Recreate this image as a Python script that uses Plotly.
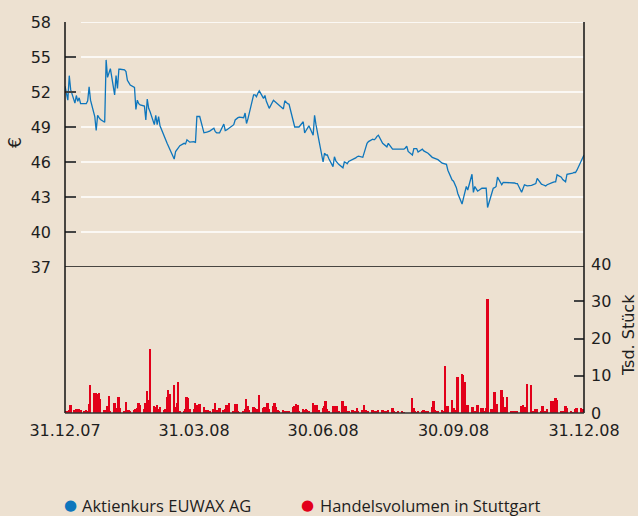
import pandas as pd
import plotly.graph_objects as go

# ---------------- data ----------------
# trading days: 31.12.2007 .. 31.12.2008 (weekdays, without 01.01.2008)
start_date = "2007-12-31"
end_date = "2008-12-31"
excluded_days = ["2008-01-01"]

# share price EUWAX AG (EUR), one value per trading day
price = [
    52.5,                                                                       # Dec 07
    51.3, 53.4, 52.2, 51.05, 51.7, 51.2, 51.5, 51.0, 51.0, 51.0, 51.25, 52.45,
    51.3, 49.9, 48.7, 50.0, 49.8, 49.65, 49.4, 54.75, 53.25, 53.6,              # Jan
    54.0, 51.75, 53.4, 52.3, 53.95, 53.95, 53.9, 53.75, 53.0, 52.8, 52.6,
    52.4, 50.5, 51.3, 51.0, 50.9, 50.8, 49.6, 51.4, 50.6, 50.3,                 # Feb
    49.2, 50.0, 49.2, 49.9, 49.1, 48.3, 47.9, 47.6, 47.3, 47.0, 46.25,
    46.9, 47.1, 47.3, 47.4, 47.6, 47.55, 47.9, 47.8, 47.7, 47.75,               # Mar
    47.65, 49.9, 49.9, 49.9, 48.5, 48.5, 48.55, 48.6, 48.65, 48.9, 48.6,
    48.5, 48.5, 48.5, 49.25, 48.7, 48.75, 48.85, 48.95, 49.2, 49.6, 49.75,      # Apr
    49.8, 49.85, 49.8, 50.2, 49.3, 49.7, 50.25, 51.75, 51.75, 51.6, 51.9,
    52.1, 51.45, 51.7, 51.2, 50.9, 50.6, 51.3, 51.2, 51.1, 51.0, 50.85,         # May
    50.55, 51.25, 51.1, 51.0, 50.95, 49.6, 49.0, 49.0, 49.0, 49.0, 49.45,
    48.5, 48.7, 48.9, 49.1, 48.3, 50.0, 49.2, 48.4, 47.9, 46.0,                 # Jun
    46.75, 46.6, 46.6, 46.3, 45.6, 46.45, 46.1, 45.95, 45.8, 45.5, 46.0, 45.95,
    45.85, 46.05, 46.2, 46.3, 46.35, 46.45, 46.5, 46.4, 46.75, 47.2, 47.6,      # Jul
    47.75, 47.95, 47.9, 48.0, 48.2, 48.3, 47.6, 47.5, 47.35, 47.3, 47.6,
    47.1, 47.1, 47.1, 47.1, 47.1, 47.1, 47.1, 47.2, 47.35, 46.9,                # Aug
    46.6, 47.15, 47.15, 47.15, 46.85, 47.1, 46.95, 46.9, 46.8, 46.75, 46.4,
    46.35, 46.3, 46.25, 46.2, 45.9, 45.85, 45.85, 45.8, 45.3, 44.45, 44.35,     # Sep
    44.1, 43.8, 43.3, 42.4, 42.9, 43.4, 43.9, 43.6, 44.95, 43.4, 43.9, 43.7,
    43.5, 43.75, 43.75, 43.75, 43.75, 42.1, 43.5, 43.75, 43.8, 43.9, 44.7,      # Oct
    44.05, 44.25, 44.25, 44.2, 44.25, 44.25, 44.2, 44.2, 44.15, 44.15,
    43.4, 43.8, 44.05, 44.0, 43.95, 44.0, 44.05, 44.1, 44.15, 44.6,             # Nov
    44.1, 44.05, 44.0, 43.95, 44.05, 44.25, 44.25, 44.3, 44.3, 44.9, 44.7, 44.5,
    44.35, 44.3, 44.95, 45.0, 45.05, 45.1, 45.1, 45.3, 46.0, 46.3, 46.6,        # Dec
]

# trading volume Stuttgart (thousand shares), one value per trading day
volume = [
    0.3,                                                                        # Dec 07
    0.5, 0.7, 2.1, 0.9, 1.1, 1.0, 1.1, 0.8, 0.3, 0.7, 0.6, 2.5,
    7.4, 5.4, 5.3, 5.0, 5.3, 3.7, 0.9, 0.3, 2.0, 4.6,                           # Jan
    0.4, 2.8, 0.8, 1.4, 4.4, 1.3, 0.5, 3.0, 0.8, 0.7, 0.6,
    0.8, 1.0, 1.4, 2.7, 2.2, 1.0, 2.8, 6.0, 3.6, 17.1,                          # Feb
    2.0, 1.5, 2.1, 1.2, 1.6, 0.9, 1.0, 4.4, 6.2, 5.2, 7.6,
    1.5, 2.7, 8.3, 0.5, 0.5, 1.2, 4.2, 4.0, 1.0, 1.0,                           # Mar
    2.7, 2.2, 1.1, 2.4, 1.6, 0.9, 0.9, 0.7, 0.4, 1.0, 2.7,
    0.9, 0.5, 1.3, 0.7, 1.0, 2.2, 0.8, 2.7, 0.6, 2.5, 2.5,                      # Apr
    0.3, 0.2, 0.4, 1.0, 3.7, 1.8, 0.8, 1.6, 1.3, 0.7, 1.0,
    4.9, 1.3, 1.6, 1.2, 2.8, 1.1, 1.8, 2.7, 1.5, 0.9, 0.3,                      # May
    0.9, 0.5, 0.4, 0.4, 0.3, 1.6, 2.0, 2.5, 2.2, 0.6, 1.1,
    0.9, 1.0, 0.8, 0.6, 2.7, 2.2, 1.5, 2.2, 0.7, 1.3,                           # Jun
    2.0, 3.1, 1.2, 0.6, 2.0, 1.8, 2.0, 2.0, 0.5, 3.1, 1.5, 2.0,
    0.6, 0.3, 0.7, 0.4, 0.4, 1.3, 0.3, 0.9, 2.2, 0.9, 0.3,                      # Jul
    0.3, 0.7, 0.4, 0.3, 0.6, 0.7, 0.7, 0.4, 0.2, 0.3, 0.9,
    1.3, 0.5, 0.2, 0.1, 0.4, 0.3, 0.2, 0.0, 0.0, 0.0,                           # Aug
    4.0, 1.3, 0.3, 0.2, 0.3, 0.5, 0.9, 0.6, 0.3, 0.5, 1.6,
    3.1, 0.7, 0.4, 0.3, 0.7, 0.6, 12.6, 0.5, 1.8, 3.6, 1.3,                     # Sep
    0.8, 0.5, 9.6, 10.4, 10.3, 8.2, 0.5, 2.2, 1.6, 1.5, 0.5, 0.6,
    2.2, 1.3, 1.3, 0.4, 1.3, 30.7, 1.0, 0.5, 5.7, 0.3, 2.5,                     # Oct
    6.2, 4.4, 1.5, 0.9, 4.3, 0.3, 0.5, 0.3, 0.3, 0.4,
    2.0, 2.2, 0.9, 1.6, 7.8, 7.4, 0.5, 0.3, 1.1, 1.0,                           # Nov
    0.4, 2.0, 0.6, 0.5, 1.2, 3.3, 3.1, 0.6, 4.0, 3.6, 0.4, 0.3,
    0.3, 2.0, 1.3, 0.3, 0.2, 0.0, 1.2, 1.3, 1.3, 1.2, 0.2,                      # Dec
]

price_ticks = [37, 40, 43, 46, 49, 52, 55, 58]
volume_ticks = [0, 10, 20, 30, 40]
x_tick_dates = ["2007-12-31", "2008-03-31", "2008-06-30", "2008-09-30", "2008-12-31"]
x_tick_labels = ["31.12.07", "31.03.08", "30.06.08", "30.09.08", "31.12.08"]
series_names = ["Aktienkurs EUWAX AG", "Handelsvolumen in Stuttgart"]
price_title = "€"
volume_title = "Tsd. Stück"

# ---------------- styling ----------------
BG = "#EDE1D1"
BLUE = "#0E76BC"
RED = "#E2001A"
INK = "#1E1E1E"
TICK_FONT = dict(family="DejaVu Sans", size=16, color=INK)

dates = pd.bdate_range(start_date, end_date)
dates = dates[~dates.isin(pd.to_datetime(excluded_days))]
n = min(len(dates), len(price), len(volume))
dates = dates[:n]

fig = go.Figure()
fig.add_trace(go.Bar(
    x=dates, y=volume[:n], xaxis="x", yaxis="y2",
    marker=dict(color=RED, line=dict(width=0)),
    width=1.35 * 86400000, name=series_names[1], showlegend=False,
))
fig.add_trace(go.Scatter(
    x=dates, y=price[:n], xaxis="x", yaxis="y", mode="lines",
    line=dict(color=BLUE, width=1.3), name=series_names[0], showlegend=False,
))

L, R, T, B = 65, 54, 22, 103
W_PLOT = 638.0 - L - R
H_PLOT = 516.0 - T - B
price_bottom = (413 - 267) / H_PLOT
vol_top = (413 - 264) / H_PLOT

fig.update_layout(
    width=638, height=516,
    margin=dict(l=L, r=R, t=T, b=B, autoexpand=False),
    paper_bgcolor=BG, plot_bgcolor=BG,
    bargap=0,
    xaxis=dict(
        type="date", anchor="y2", domain=[0, 1], automargin=False,
        range=[start_date, end_date],
        tickvals=x_tick_dates, ticktext=x_tick_labels,
        ticks="", showgrid=False, zeroline=False, showline=False,
        tickfont=TICK_FONT, ticklabelstandoff=6,
    ),
    yaxis=dict(
        domain=[price_bottom, 1], range=[37, 58], anchor="x", automargin=False,
        tickvals=price_ticks, ticks="inside", ticklen=11, tickwidth=1.5,
        tickcolor="#444", showgrid=False, zeroline=False, showline=False,
        tickfont=TICK_FONT, ticklabelstandoff=13,
    ),
    yaxis2=dict(
        domain=[0, vol_top], range=[0, 40], anchor="x", side="right", automargin=False,
        tickvals=volume_ticks, ticks="inside", ticklen=10, tickwidth=1.5,
        tickcolor="#444", showgrid=False, zeroline=False, showline=False,
        tickfont=TICK_FONT, ticklabelstandoff=6,
    ),
)

shapes = []
grid_x0 = (81 - L) / W_PLOT
for v in price_ticks[1:]:
    shapes.append(dict(type="line", xref="paper", yref="y", x0=grid_x0, x1=1,
                       y0=v, y1=v, line=dict(color="white", width=1.6), layer="below"))
# frame lines
shapes.append(dict(type="line", xref="paper", yref="y", x0=0, x1=1, y0=price_ticks[0],
                   y1=price_ticks[0], line=dict(color="#111", width=1.5)))
shapes.append(dict(type="line", xref="paper", yref="paper", x0=0, x1=0, y0=0, y1=1,
                   line=dict(color="#111", width=1.5)))
shapes.append(dict(type="line", xref="paper", yref="paper", x0=1, x1=1, y0=0, y1=1,
                   line=dict(color="#111", width=1.5)))
shapes.append(dict(type="line", xref="paper", yref="paper", x0=0, x1=1, y0=0, y1=0,
                   line=dict(color="#333", width=1.5)))
fig.update_layout(shapes=shapes)

ann = []
# axis titles
ann.append(dict(xref="paper", yref="paper", x=(15 - L) / W_PLOT, y=(413 - 143) / H_PLOT,
                text=price_title, textangle=-90, showarrow=False,
                xanchor="center", yanchor="middle",
                font=dict(family="DejaVu Sans", size=17, color=INK)))
ann.append(dict(xref="paper", yref="paper", x=(628 - L) / W_PLOT, y=(413 - 335) / H_PLOT,
                text=volume_title, textangle=-90, showarrow=False,
                xanchor="center", yanchor="middle",
                font=dict(family="DejaVu Sans", size=16, color=INK)))

# legend drawn as annotations (round markers)
leg_y = (413 - 505) / H_PLOT
LEG_FONT = dict(family="Open Sans", size=16.5, color=INK)
for name, col, px_dot, px_txt in [(series_names[0], BLUE, 70.5, 80),
                                  (series_names[1], RED, 307, 318)]:
    ann.append(dict(xref="paper", yref="paper", x=(px_dot - L) / W_PLOT, y=leg_y,
                    text="●", showarrow=False, xanchor="center", yanchor="middle",
                    font=dict(family="DejaVu Sans", size=15, color=col)))
    ann.append(dict(xref="paper", yref="paper", x=(px_txt - L) / W_PLOT, y=leg_y,
                    text=name, showarrow=False, xanchor="left", yanchor="middle",
                    font=LEG_FONT))
fig.update_layout(annotations=ann)

fig.write_html(
    "out.html",
    config={"displayModeBar": False},
    post_script="document.body.style.margin='0';document.body.style.overflow='hidden';",
)
